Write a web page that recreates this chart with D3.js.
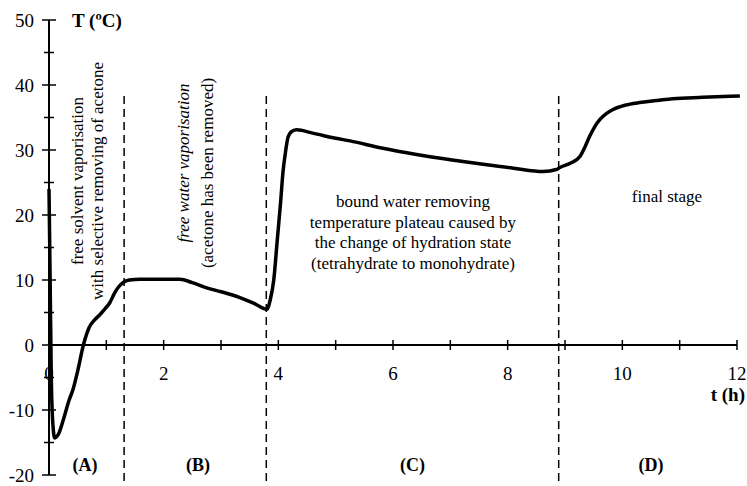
<!DOCTYPE html>
<html>
<head>
  <meta charset="utf-8">
  <style>
    body { margin: 0; background: #fff; }
  </style>
</head>
<body>
<svg width="747" height="486"></svg>
<script src="https://d3js.org/d3.v7.min.js"></script>
<script>

// drying curve
var timeH = [0, 0.02, 0.04, 0.07, 0.1, 0.16, 0.25, 0.35, 0.42, 0.5, 0.6, 0.7, 0.8, 0.89, 0.98, 1.06, 1.15, 1.22, 1.29, 1.4, 1.59, 1.9, 2.28, 2.5, 2.75, 3.0, 3.33, 3.6, 3.8,
             3.86, 3.92, 3.98, 4.04, 4.08, 4.13, 4.17, 4.24, 4.32, 4.6, 5.0, 5.25, 5.8, 6.41, 7.0, 7.57, 8.1, 8.62, 8.85,
             8.91, 9.1, 9.26, 9.35, 9.43, 9.52, 9.61, 9.72, 9.83, 10.05, 10.3, 10.6, 10.88, 11.4, 12.05];
var tempC = [24, 10, -5, -12.5, -14.3, -13.8, -11.5, -8.5, -6.8, -4, 0, 2.7, 3.9, 4.7, 5.6, 6.5, 8.1, 9.0, 9.6, 10.0, 10.1, 10.1, 10.1, 9.6, 8.8, 8.2, 7.3, 6.3, 5.5,
             7, 10, 16, 22, 26.5, 30, 32, 32.9, 33.1, 32.6, 31.8, 31.4, 30.3, 29.3, 28.5, 27.8, 27.2, 26.7, 27.0,
             27.3, 28, 29, 30.5, 32.1, 33.6, 34.7, 35.6, 36.2, 36.9, 37.3, 37.6, 37.9, 38.1, 38.3];

var stageBounds = [1.31, 3.79, 8.89];
var stageNames = ["(A)", "(B)", "(C)", "(D)"];
var stageMid = [0.63, 2.6, 6.34, 10.5];

var yTicks = [-20, -10, 0, 10, 20, 30, 40, 50];
var xTicks = [0, 2, 4, 6, 8, 10, 12];

var FONT = "'Liberation Serif', 'Times New Roman', serif";

var svg = d3.select("svg");

var x = d3.scaleLinear().domain([0, 12]).range([49, 737]);
var y = d3.scaleLinear().domain([-20, 50]).range([475, 20]);

// y axis, minor ticks every 5
var yAxis = svg.append("g").attr("transform", "translate(" + x(0) + ",0)");
yAxis.append("line").attr("y1", y(50)).attr("y2", y(-20)).attr("stroke", "#000").attr("stroke-width", 2);
yAxis.selectAll(".ytick").data(d3.range(-20, 51, 5)).enter().append("line")
    .attr("x1", function(d) { return d % 10 == 0 ? -7 : -5; })
    .attr("x2", function(d) { return d % 10 == 0 ? 7 : 5; })
    .attr("y1", function(d) { return y(d); })
    .attr("y2", function(d) { return y(d); })
    .attr("stroke", "#000").attr("stroke-width", 1.5);
yAxis.selectAll(".ylab").data(yTicks).enter().append("text")
    .attr("x", -15).attr("y", function(d) { return y(d); }).attr("dy", "0.35em")
    .attr("text-anchor", "end").style("font-family", FONT).style("font-size", "19px")
    .text(function(d) { return d; });

// x axis along T = 0
var xAxis = svg.append("g").attr("transform", "translate(0," + y(0) + ")");
xAxis.append("line").attr("x1", x(0)).attr("x2", x(12)).attr("stroke", "#000").attr("stroke-width", 2);
xAxis.selectAll(".xtick").data(d3.range(1, 13)).enter().append("line")
    .attr("x1", function(d) { return x(d); }).attr("x2", function(d) { return x(d); })
    .attr("y1", -5).attr("y2", 5)
    .attr("stroke", "#000").attr("stroke-width", 1.5);
xAxis.selectAll(".xlab").data(xTicks).enter().append("text")
    .attr("x", function(d) { return x(d); }).attr("y", 35)
    .attr("text-anchor", "middle").style("font-family", FONT).style("font-size", "19px")
    .text(function(d) { return d; });

svg.append("text").attr("x", 72).attr("y", 27).style("font-family", FONT).style("font-size", "19px").style("font-weight", "bold").text("T (ºC)");
svg.append("text").attr("x", 745).attr("y", 401).attr("text-anchor", "end").style("font-family", FONT).style("font-size", "19px").style("font-weight", "bold").text("t (h)");

// stage boundaries
svg.selectAll(".bound").data(stageBounds).enter().append("line")
    .attr("x1", function(d) { return x(d); }).attr("x2", function(d) { return x(d); })
    .attr("y1", 96).attr("y2", 486)
    .attr("stroke", "#000").attr("stroke-width", 1.5).attr("stroke-dasharray", "8,5");

svg.selectAll(".stage").data(stageNames).enter().append("text")
    .attr("x", function(d, i) { return x(stageMid[i]); }).attr("y", 471)
    .attr("text-anchor", "middle").style("font-family", FONT).style("font-size", "18px").style("font-weight", "bold")
    .text(function(d) { return d; });

// curve
var line = d3.line().curve(d3.curveMonotoneX)
    .x(function(d) { return x(d[0]); })
    .y(function(d) { return y(d[1]); });
svg.append("path").datum(d3.zip(timeH, tempC))
    .attr("d", line).attr("fill", "none").attr("stroke", "#000")
    .attr("stroke-width", 3.5).attr("stroke-linejoin", "round");

// annotations
function vtext(cx, cy, str, italic) {
  svg.append("text").attr("transform", "translate(" + cx + "," + cy + ") rotate(-90)")
    .attr("text-anchor", "middle").attr("dy", "0.35em")
    .style("font-family", FONT).style("font-size", "17px")
    .style("font-style", italic ? "italic" : "normal").text(str);
}
vtext(77, 181, "free solvent vaporisation", false);
vtext(97, 181, "with selective removing of acetone", false);
vtext(183, 163, "free water vaporisation", true);
vtext(207, 173, "(acetone has been removed)", false);

var cLines = ["bound water removing", "temperature plateau caused by", "the change of hydration state", "(tetrahydrate to monohydrate)"];
svg.selectAll(".cl").data(cLines).enter().append("text")
    .attr("x", 413).attr("y", function(d, i) { return 207 + i * 20.5; })
    .attr("text-anchor", "middle").style("font-family", FONT).style("font-size", "17px")
    .text(function(d) { return d; });

svg.append("text").attr("x", 667).attr("y", 202).attr("text-anchor", "middle")
    .style("font-family", FONT).style("font-size", "17px").text("final stage");

</script>
</body>
</html>
